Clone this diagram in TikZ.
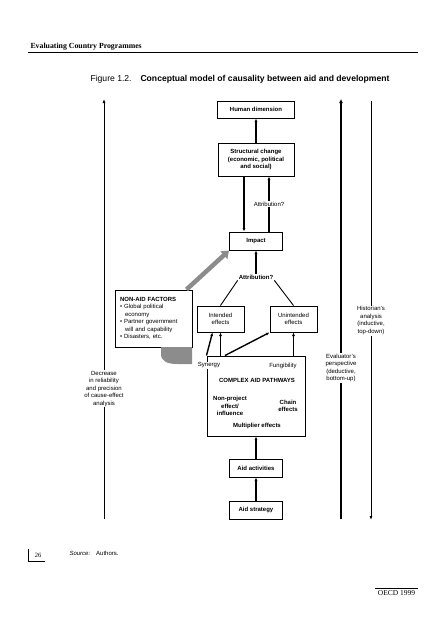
\documentclass[tikz,border=0pt]{standalone}
\usepackage{fontspec}
\setmainfont{Liberation Serif}
\setsansfont{Liberation Sans}
\usetikzlibrary{arrows.meta,positioning,calc}
\tikzset{
  font=\sffamily\fontsize{6}{7.5}\selectfont,
  box/.style={
    draw,
    line width=1pt,
    align=center,
    inner sep=2pt,
    font=\sffamily\bfseries\fontsize{6}{7.5}\selectfont
  },
  effect/.style={
    draw,
    line width=1pt,
    align=center,
    minimum width=47pt,
    minimum height=26pt,
    inner sep=2pt
  },
  txt/.style={
    align=center,
    inner sep=1pt
  },
  boldtxt/.style={
    align=center,
    inner sep=1pt,
    font=\sffamily\bfseries\fontsize{6}{7.5}\selectfont
  },
  arrow/.style={-{Latex[length=3.5pt,width=3pt]}, line width=1.4pt},
  link/.style={line width=0.9pt},
  greyarrow/.style={-{Triangle[length=7pt,width=10pt]}, line width=4.5pt, draw=black!45},
  sidearrow/.style={-{Latex[length=4pt,width=3pt]}, line width=0.8pt},
  evalarrow/.style={-{Latex[length=4pt,width=4pt]}, line width=2.2pt}
}

\begin{document}
\begin{tikzpicture}[x=1pt,y=-1pt]
\useasboundingbox (0,0) rectangle (445,640);

% page header and title
\node[anchor=west, font=\rmfamily\bfseries\fontsize{7.8}{9}\selectfont] (head) at (27,47) {Evaluating Country Programmes};
\draw[line width=0.8pt] (28,52.5) -- (418,52.5);
\node[anchor=west, font=\sffamily\fontsize{8.6}{10}\selectfont] (fig) at (87,79) {Figure 1.2.};
\node[anchor=west, font=\sffamily\bfseries\fontsize{8.6}{10}\selectfont] (title) at (137,79) {Conceptual model of causality between aid and development};

% main chain
\node[box, minimum width=77pt, minimum height=17pt] (human) at (256,109.5) {Human dimension};
\node[box, minimum width=76pt, minimum height=33pt] (struct) at (256,159.5) {Structural change\\(economic, political\\and social)};
\node[box, minimum width=53pt, minimum height=18pt] (impact) at (256,241) {Impact};
\node[boldtxt] (attr) at (256,277) {Attribution?};
\node[effect] (intended) at (220.5,319) {Intended\\effects};
\node[effect] (unintended) at (293.5,319) {Unintended\\effects};

% non-aid factors
\node[draw, line width=1pt, align=left, text width=67pt, inner sep=5pt, minimum height=57pt] (nonaid) at (153.5,318.5) {\textbf{NON-AID FACTORS}\\
\textbullet\ Global political\\
\hspace*{5pt}economy\\
\textbullet\ Partner government\\
\hspace*{5pt}will and capability\\
\textbullet\ Disasters, etc.};

% complex aid pathways
\node[draw, line width=1pt, minimum width=98pt, minimum height=80pt] (complex) at (256,396) {};
\node[txt, fill=white] (synergy) at (209,365.5) {Synergy};
\node[txt] (fung) at (283,365.5) {Fungibility};
\node[boldtxt] (cap) at (257,380) {COMPLEX AID PATHWAYS};
\node[boldtxt] (nonproj) at (230,406) {Non-project\\effect/\\influence};
\node[boldtxt] (chain) at (288,406) {Chain\\effects};
\node[boldtxt] (mult) at (257,426) {Multiplier effects};

\node[box, minimum width=53pt, minimum height=18pt] (activities) at (256,468) {Aid activities};
\node[box, minimum width=53pt, minimum height=18pt] (strategy) at (256,510) {Aid strategy};

% Connections
\draw[arrow] (struct) -- (human);
\draw[arrow] ([xshift=-12pt]struct.south) -- ([xshift=-12pt]impact.north);
\draw[arrow] ([xshift=13pt]impact.north) -- node[txt, fill=white] {Attribution?} ([xshift=13pt]struct.south);
\draw[arrow] (attr) -- (impact);
\draw[link] (attr.south west) -- (intended.north);
\draw[link] (attr.south east) -- (unintended.north);

\draw[arrow] (complex.north west) -- ([xshift=-8pt]intended.south);
\draw[arrow] (intended.south |- complex.north) -- (intended.south);
\draw[arrow] ([xshift=-31pt]complex.north) -- (unintended.south west);
\draw[arrow] (unintended.south |- complex.north) -- (unintended.south);
\draw[arrow] (activities) -- (complex);
\draw[arrow] (strategy) -- (activities);

% non-aid influence
\draw[greyarrow] ([xshift=-6pt]nonaid.north east) -- (impact.south west);
\fill[black!45] (161,347) -- (161,354) .. controls (161,361) and (167,364) .. (177,364) -- (192,364) -- (192,347) -- cycle;

% side arrows
\coordinate (declow) at (104,519);
\coordinate (dectop) at (104,99);
\coordinate (evallow) at (341,519);
\coordinate (evaltop) at (341,99);
\coordinate (histtop) at (371,101);
\coordinate (histlow) at (371,520);

\draw[sidearrow] (declow) -- node[pos=0.31, txt, fill=white] {Decrease\\in reliability\\and precision\\of cause-effect\\analysis} (dectop);
\draw[evalarrow] (evallow) -- node[pos=0.36, txt, fill=white] {Evaluator's\\perspective\\(deductive,\\bottom-up)} (evaltop);
\draw[sidearrow] (histtop) -- node[pos=0.524, txt, fill=white] {Historian's\\analysis\\(inductive,\\top-down)} (histlow);

% footer
\node[anchor=west] (source) at (66,553) {\textit{Source:}\quad Authors.};
\node[font=\rmfamily\fontsize{6.5}{8}\selectfont] (page) at (38,555) {26};
\draw[line width=0.6pt] (28,549) -- (28,561) -- (45,561);
\node[font=\rmfamily\fontsize{7.5}{9}\selectfont] (oecd) at (396.5,593.5) {OECD 1999};
\draw[line width=0.6pt] (375,588) -- (418,588);

\end{tikzpicture}
\end{document}
